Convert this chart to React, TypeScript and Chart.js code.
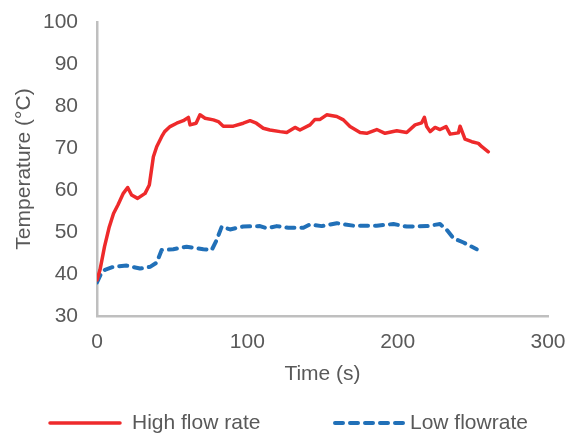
import React, { useEffect, useRef } from "react";
import { Chart, registerables } from "chart.js";

Chart.register(...registerables);

const highTime = [0, 2, 5, 8, 11, 14, 17.5, 20.4, 23, 27, 32, 34.8, 37.5, 39.7, 43, 45, 48.6, 53, 57.4, 60.8, 61.9, 65.9, 68.5, 71.9, 77.4, 80.7, 84, 90.7, 97.3, 101.8, 106, 110.6, 115, 121.8, 126.2, 131.7, 135, 141.7, 145, 148.4, 152.8, 159.5, 163.9, 168.3, 175, 179.4, 186.1, 191.6, 199.4, 206, 211.6, 216, 217.8, 219.3, 221.6, 224.9, 228.2, 232.2, 234.9, 240.4, 241.5, 244.8, 249.3, 253.7, 256, 260.3];
const highTemp = [38.6, 41, 46.5, 51, 54.4, 56.5, 59.2, 60.6, 58.8, 58, 59.2, 61.2, 67.9, 70.3, 72.7, 73.9, 75.1, 75.9, 76.5, 77.3, 75.5, 75.9, 77.9, 77.1, 76.7, 76.3, 75.2, 75.2, 75.9, 76.5, 75.9, 74.7, 74.3, 73.9, 73.7, 74.9, 74.3, 75.5, 76.8, 76.8, 77.9, 77.5, 76.7, 75.1, 73.7, 73.5, 74.4, 73.5, 74.1, 73.7, 75.5, 76, 77.3, 75.1, 73.9, 74.9, 74.4, 75.1, 73.3, 73.6, 75.2, 72.1, 71.5, 71.1, 70.3, 69.1];

const lowTime = [0, 3, 5.3, 10.9, 19.7, 28.6, 35.3, 39.7, 43, 50.8, 59.6, 70.7, 76.3, 79.6, 83, 88.5, 97.3, 108.4, 112.9, 119.6, 127.3, 137.3, 141.7, 149.5, 159.5, 170.6, 186.1, 197.2, 206, 219.3, 228.2, 232.7, 237.1, 243.8, 252.6];
const lowTemp = [38, 40.3, 41, 41.7, 42, 41.3, 41.7, 42.7, 45.7, 45.9, 46.5, 45.9, 45.7, 48.1, 51.3, 50.6, 51.3, 51.4, 50.9, 51.4, 51, 51, 51.8, 51.4, 52.1, 51.5, 51.5, 51.9, 51.3, 51.4, 51.9, 50.5, 48.5, 47.5, 45.9];

const seriesLabels = ["High flow rate", "Low flowrate"];
const xTicks = [0, 100, 200, 300];
const yTicks = [30, 40, 50, 60, 70, 80, 90, 100];

const RED = "#EE2A2B";
const BLUE = "#2170B8";
const TEXT = "#595959";
const FONT = "'Liberation Sans', Arial, sans-serif";
const FS = 21;

const customLegend = {
  id: "customLegend",
  afterDraw(chart: any) {
    const ctx = chart.ctx;
    const y = 423;
    const items = [
      { x0: 50, x1: 120, tx: 132, ds: chart.data.datasets[0] },
      { x0: 335, x1: 403, tx: 410, ds: chart.data.datasets[1] },
    ];
    ctx.save();
    for (const it of items) {
      ctx.beginPath();
      ctx.strokeStyle = it.ds.borderColor;
      ctx.lineWidth = it.ds.borderWidth;
      ctx.lineCap = it.ds.borderCapStyle || "butt";
      ctx.setLineDash(it.ds.borderDash || []);
      ctx.moveTo(it.x0, y);
      ctx.lineTo(it.x1, y);
      ctx.stroke();
      ctx.setLineDash([]);
      ctx.fillStyle = TEXT;
      ctx.font = `${FS}px ${FONT}`;
      ctx.textBaseline = "middle";
      ctx.textAlign = "left";
      ctx.fillText(it.ds.label, it.tx, y);
    }
    ctx.restore();
  },
};

const zeroPad = (s: any) => {
  s.paddingTop = 0;
  s.paddingBottom = 0;
  s.paddingLeft = 0;
  s.paddingRight = 0;
};

export default function App() {
  const ref = useRef<HTMLCanvasElement>(null);
  useEffect(() => {
    if (!ref.current) return;
    const chart = new Chart(ref.current, {
      type: "line",
      data: {
        datasets: [
          {
            label: seriesLabels[0],
            data: highTime.map((t, i) => ({ x: t, y: highTemp[i] })),
            borderColor: RED,
            borderWidth: 3.5,
            pointRadius: 0,
            tension: 0,
            borderCapStyle: "round",
            borderJoinStyle: "round",
          },
          {
            label: seriesLabels[1],
            data: lowTime.map((t, i) => ({ x: t, y: lowTemp[i] })),
            borderColor: BLUE,
            borderWidth: 4,
            borderDash: [8, 7],
            borderCapStyle: "round",
            borderJoinStyle: "round",
            pointRadius: 0,
            tension: 0,
          },
        ],
      },
      options: {
        responsive: false,
        animation: false,
        layout: { padding: { top: 22, right: 22, bottom: 48, left: 0 } },
        plugins: {
          legend: { display: false },
          tooltip: { enabled: false },
        },
        scales: {
          x: {
            type: "linear",
            min: 0,
            max: 300,
            afterBuildTicks: (s: any) => {
              s.ticks = xTicks.map((v) => ({ value: v }));
            },
            afterFit: (s: any) => {
              s.height = 71;
              zeroPad(s);
            },
            grid: { display: false, drawTicks: false },
            border: { display: true, color: "#BFBFBF", width: 2.5 },
            ticks: { color: TEXT, font: { size: FS, family: FONT }, padding: 14, maxRotation: 0 },
            title: {
              display: true,
              text: "Time (s)",
              color: TEXT,
              font: { size: FS, family: FONT },
              padding: { top: 0, bottom: 0 },
            },
          },
          y: {
            type: "linear",
            min: 30,
            max: 100,
            afterBuildTicks: (s: any) => {
              s.ticks = yTicks.map((v) => ({ value: v }));
            },
            afterFit: (s: any) => {
              s.width = 97;
              zeroPad(s);
            },
            grid: { display: false, drawTicks: false },
            border: { display: true, color: "#BFBFBF", width: 2.5 },
            ticks: { color: TEXT, font: { size: FS, family: FONT }, padding: 19 },
            title: {
              display: true,
              text: "Temperature (°C)",
              color: TEXT,
              font: { size: FS, family: FONT },
              padding: { top: 12, bottom: 0 },
            },
          },
        },
      },
      plugins: [customLegend],
    });
    return () => chart.destroy();
  }, []);
  return (
    <div style={{ position: "fixed", left: 0, top: 0, width: 570, height: 435, background: "#fff" }}>
      <canvas ref={ref} width={570} height={435} style={{ display: "block" }} />
    </div>
  );
}
